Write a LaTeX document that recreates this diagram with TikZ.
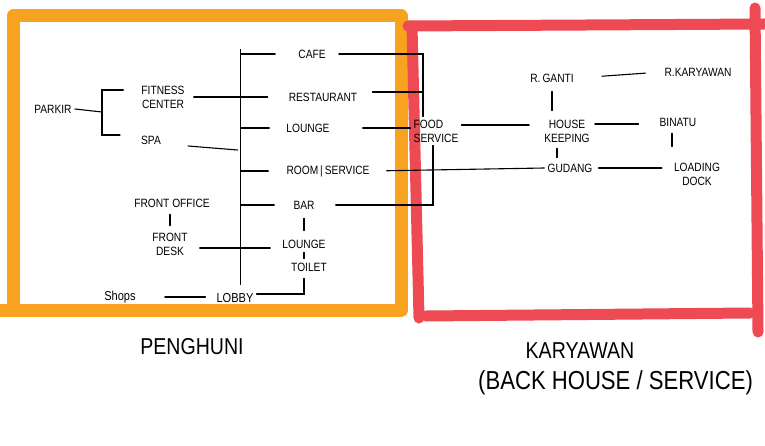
\documentclass[tikz,border=0pt]{standalone}
\usepackage{fontspec}
\newfontfamily\hand[FakeStretch=0.85]{Liberation Sans}
\usetikzlibrary{calc}

\definecolor{penghuni}{RGB}{247,163,32}
\definecolor{karyawan}{RGB}{237,74,84}

\tikzset{
  room/.style={font=\hand\fontsize{12}{14}\selectfont, inner sep=3pt, align=center},
  bigroom/.style={room, font=\hand\fontsize{13}{15}\selectfont},
  link/.style={line width=1.1pt, line cap=round},
  zone/.style={line width=#1, line cap=round, line join=round},
  caption/.style={font=\hand\fontsize{23}{26}\selectfont, inner sep=0pt}
}

\begin{document}
\begin{tikzpicture}[x=1pt,y=-1pt]
		\useasboundingbox (0,0) rectangle (765,446);
		
		%%%%% ZONES %%%%%
		\draw[zone=13pt, penghuni] (0,310) -- (401,310) -- (401,16) -- (13,16) -- (13,306);
		
		\draw[zone=11pt, karyawan] (408,26) -- (765,24);
		\draw[zone=11pt, karyawan] (755,8) -- (758,332);
		\draw[zone=11pt, karyawan] (412,26) -- (419,318);
		\draw[zone=11pt, karyawan] (426,316) -- (750,313);
		
		%%%%% PENGHUNI %%%%%
		\node[room] (cafe)        at (312,54)  {CAFE};
		\node[room] (restaurant)  at (323,97)  {RESTAURANT};
		\node[room] (lounge)      at (308,128) {LOUNGE};
		\node[room] (roomsvc)     at (328,171) {ROOM\,|\,SERVICE};
		\node[room] (bar)         at (304,205) {BAR};
		\node[room] (lounge2)     at (304,244) {LOUNGE};
		\node[room] (toilet)      at (309,267) {TOILET};
		\node[bigroom] (lobby)    at (235,298) {LOBBY};
		\node[bigroom] (shops)    at (120,297) {Shops};
		\node[room] (frontoffice) at (172,203) {FRONT OFFICE};
		\node[room] (frontdesk)   at (170,244) {FRONT\\DESK};
		\node[room] (parkir)      at (53,109)  {PARKIR};
		\node[room] (fitness)     at (163,97)  {FITNESS\\CENTER};
		\node[room] (spa)         at (151,140) {SPA};
		
		% lobby spine
		\coordinate (spinetop) at (238.5,49);
		\coordinate (spinebot) at (238.5,285);
		\coordinate (spine) at (240.5,0);
		\draw[line width=0.8pt, double, double distance=2.4pt] (spinetop) -- (spinebot);
		
		\foreach \n/\g in {cafe/20,lounge/14,roomsvc/15,bar/16}
			\draw[link, shorten >=\g pt] (spine |- \n) -- (\n.west);
		
		\draw[link, shorten <=6pt, shorten >=18pt] (fitness.east) -- (restaurant.west);
		\draw[link] ($(spa.east)+(24,6)$) -- ($(spine |- spa)+(-3,10)$);
		
		\coordinate (fork) at (102,112);
		\draw[link] (parkir.east) -- (fork);
		\draw[link] ($(fitness.west)+(-15,-7)$) -| (fork) |- ($(spa.west)+(-18,-5)$);
		
		\draw[link, shorten <=4pt, shorten >=4pt] (frontdesk.north |- frontoffice.south) -- (frontdesk.north);
		\draw[link, shorten <=9pt, shorten >=9pt] ([yshift=-4pt]frontdesk.east) -- ([yshift=-4pt]frontdesk.east -| lounge2.west);
		
		\draw[link, shorten <=6pt, shorten >=6pt] (bar) -- (lounge2);
		\draw[link, shorten <=1pt, shorten >=1pt] (lounge2.south) -- (lounge2.south |- toilet.north);
		\draw[link, shorten <=4pt] ([xshift=-5pt]toilet.south) |- ([yshift=4pt]lobby.east);
		\draw[link, shorten <=26pt, shorten >=8pt] (shops.east) -- (shops.east -| lobby.west);
		
		%%%%% KARYAWAN %%%%%
		\node[room, align=left] (foodsvc) at (436,131) {FOOD\\SERVICE};
		\node[room] (housekeeping) at (567,131) {HOUSE\\KEEPING};
		\node[room] (rganti)       at (552,78)  {R.\,GANTI};
		\node[room] (rkaryawan)    at (698,72)  {R.KARYAWAN};
		\node[room] (binatu)       at (678,122) {BINATU};
		\node[room] (gudang)       at (570,168) {GUDANG};
		\node[room] (loading)      at (697,174) {LOADING\\DOCK};
		
		% front of house into food service
		\coordinate (trunk) at (423,0);
		\draw[link, shorten <=10pt] (cafe.east) -| (trunk |- foodsvc.north);
		\draw[link, shorten <=12pt] ([yshift=5pt]restaurant.east) -- ([yshift=5pt]restaurant.east -| trunk);
		\draw[link, shorten <=30pt] (lounge.east) -- (lounge.east -| foodsvc.west);
		\draw[link, shorten <=18pt] (bar.east) -| ([xshift=-3pt]foodsvc.south);
		\draw[link, shorten <=14pt] (roomsvc.east) -- (gudang.west);
		
		\draw[link, shorten >=12pt] ([yshift=6pt]foodsvc.east) -- ([yshift=6pt]foodsvc.east -| housekeeping.west);
		\draw[link, shorten <=6pt, shorten >=6pt] (rganti.south) -- (rganti.south |- housekeeping.north);
		\draw[link, shorten <=25pt, shorten >=16pt] (rganti.east) -- (rkaryawan.west);
		\draw[link, shorten <=2pt, shorten >=18pt] ([yshift=7pt]housekeeping.east) -- ([yshift=7pt]housekeeping.east -| binatu.west);
		\draw[link, shorten <=4pt, shorten >=13pt] ([xshift=-6pt]binatu.south) -- ([xshift=-6pt]binatu.south |- loading.north);
		\draw[link, shorten <=3pt, shorten >=3pt] ([xshift=-10pt]housekeeping.south) -- ([xshift=-10pt]housekeeping.south |- gudang.north);
		\draw[link, shorten <=3pt, shorten >=9pt] (gudang.east) -- (gudang.east -| loading.west);
		
		%%%%% CAPTIONS %%%%%
		\node[caption] (penghunilabel) at (192,347) {PENGHUNI};
		\node[caption] (karyawanlabel) at (580,351) {KARYAWAN};
		\node[caption, anchor=west, font=\hand\fontsize{26}{28}\selectfont] (backhouse) at (478,383) {(BACK HOUSE / SERVICE)};
	\end{tikzpicture}
\end{document}
